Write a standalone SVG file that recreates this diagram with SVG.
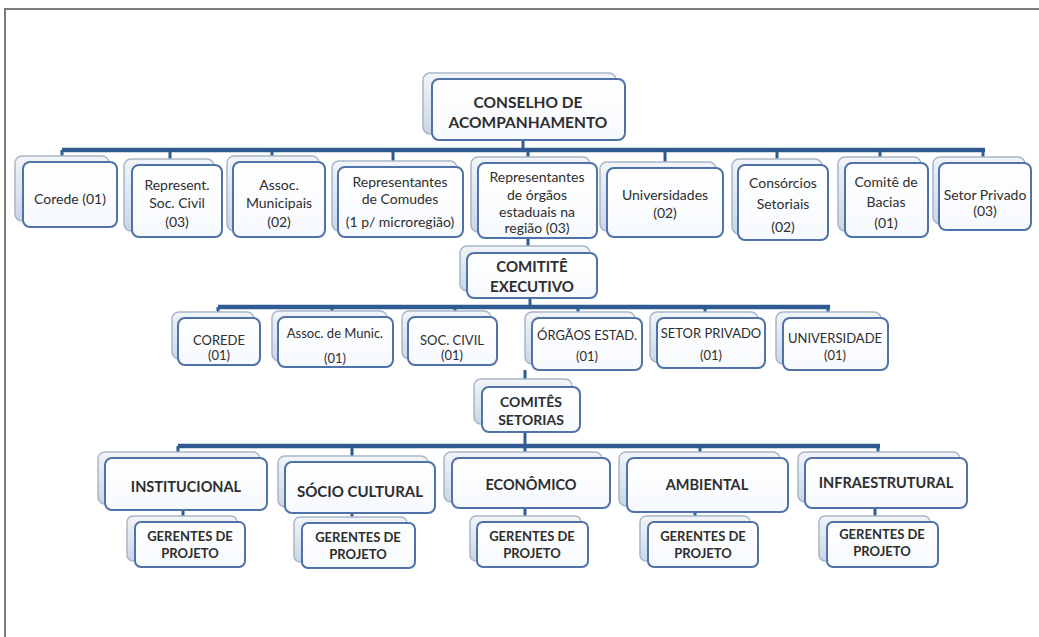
<svg xmlns="http://www.w3.org/2000/svg" width="1039" height="637" viewBox="0 0 1039 637">
<style>
.bk{fill:url(#gb);stroke:#a9b6c8;stroke-width:1.5}
.fr{fill:url(#gf);stroke:#4f73a8;stroke-width:2}
.t{font-family:Lato,"Open Sans","Liberation Sans",sans-serif;fill:#2e2e2e;text-anchor:middle}
.r{font-size:14px}
.s{font-size:13px}
.g{font-size:13px;font-weight:bold}
.b{font-weight:bold}
.c{stroke:#2f5b92;fill:none}
.bus{stroke-width:4.5}
.d{stroke-width:3}
</style>
<defs>
<linearGradient id="gb" x1="0" y1="0" x2="0" y2="1"><stop offset="0" stop-color="#f2f5f9"/><stop offset="1" stop-color="#c9d6e8"/></linearGradient>
<linearGradient id="gf" x1="0" y1="0" x2="0" y2="1"><stop offset="0" stop-color="#ffffff"/><stop offset="1" stop-color="#f6f9fd"/></linearGradient>
</defs>
<rect width="1039" height="637" fill="#ffffff"/>
<path d="M5 637 V9 H1039" fill="none" stroke="#7a7a7a" stroke-width="2"/>

<g id="connectors">
<path class="c d" d="M523 140 V150"/>
<path class="c bus" d="M62 150 H985"/>
<path class="c d" d="M62 150 V156 M170 150 V159 M272 150 V156 M393 150 V161 M528 150 V157 M665 150 V162 M777 150 V159 M880 150 V157 M983 150 V157"/>
<path class="c d" d="M528 238 V247"/>
<path class="c d" d="M530 298 V307"/>
<path class="c bus" d="M218 307 H830"/>
<path class="c d" d="M218 307 V312 M332 307 V311 M455 307 V311 M578 307 V312 M705 307 V312 M828 307 V312"/>
<path class="c d" d="M525 370 V379"/>
<path class="c d" d="M525 432 V446"/>
<path class="c bus" d="M178 446 H880"/>
<path class="c d" d="M178 446 V452 M352 446 V456 M525 446 V452 M700 446 V452 M878 446 V452"/>
<path class="c d" d="M183 510 V516 M352 513 V517 M525 508 V516 M695 512 V516 M875 508 V516"/>
</g>

<g id="n-conselho"><rect class="bk" x="423" y="73" width="193" height="61" rx="7"/><rect class="fr" x="432" y="79" width="193" height="61" rx="7"/>
<text class="t b" font-size="15.5" x="528" y="108">CONSELHO DE</text><text class="t b" font-size="15.5" x="528" y="128">ACOMPANHAMENTO</text></g>

<g id="n-corede"><rect class="bk" x="15" y="156" width="94" height="65" rx="7"/><rect class="fr" x="23" y="162" width="94" height="65" rx="7"/>
<text class="t r" x="70" y="204">Corede (01)</text></g>
<g id="n-soccivil"><rect class="bk" x="124" y="159" width="90" height="72" rx="7"/><rect class="fr" x="132" y="165" width="90" height="72" rx="7"/>
<text class="t r" x="177" y="190">Represent.</text><text class="t r" x="177" y="208">Soc. Civil</text><text class="t r" x="177" y="227">(03)</text></g>
<g id="n-assoc"><rect class="bk" x="227" y="156" width="92" height="75" rx="7"/><rect class="fr" x="233" y="162" width="92" height="75" rx="7"/>
<text class="t r" x="279" y="190">Assoc.</text><text class="t r" x="279" y="208">Municipais</text><text class="t r" x="279" y="227">(02)</text></g>
<g id="n-comudes"><rect class="bk" x="332" y="161" width="125" height="70" rx="7"/><rect class="fr" x="338" y="167" width="125" height="70" rx="7"/>
<text class="t r" x="400" y="187">Representantes</text><text class="t r" x="400" y="204">de Comudes</text><text class="t r" x="400" y="227">(1 p/ microregião)</text></g>
<g id="n-orgaos"><rect class="bk" x="471" y="157" width="119" height="75" rx="7"/><rect class="fr" x="478" y="163" width="119" height="75" rx="7"/>
<text class="t r" x="537" y="182">Representantes</text><text class="t r" x="537" y="200">de órgãos</text><text class="t r" x="537" y="217">estaduais na</text><text class="t r" x="537" y="233">região (03)</text></g>
<g id="n-univ"><rect class="bk" x="600" y="162" width="116" height="69" rx="7"/><rect class="fr" x="607" y="168" width="116" height="69" rx="7"/>
<text class="t r" x="665" y="200">Universidades</text><text class="t r" x="665" y="218">(02)</text></g>
<g id="n-consorcios"><rect class="bk" x="732" y="159" width="90" height="75" rx="7"/><rect class="fr" x="738" y="165" width="90" height="75" rx="7"/>
<text class="t r" x="783" y="188">Consórcios</text><text class="t r" x="783" y="209">Setoriais</text><text class="t r" x="783" y="232">(02)</text></g>
<g id="n-bacias"><rect class="bk" x="838" y="157" width="83" height="74" rx="7"/><rect class="fr" x="845" y="163" width="83" height="74" rx="7"/>
<text class="t r" x="886" y="187">Comitê de</text><text class="t r" x="886" y="207">Bacias</text><text class="t r" x="886" y="228">(01)</text></g>
<g id="n-setorprivado"><rect class="bk" x="933" y="157" width="92" height="67" rx="7"/><rect class="fr" x="939" y="163" width="92" height="67" rx="7"/>
<text class="t r" x="985" y="200">Setor Privado</text><text class="t r" x="985" y="216">(03)</text></g>

<g id="n-comite-exec"><rect class="bk" x="460" y="246" width="130" height="45" rx="7"/><rect class="fr" x="467" y="253" width="130" height="45" rx="7"/>
<text class="t b" font-size="15" x="532" y="272">COMITITÊ</text><text class="t b" font-size="15" x="532" y="292">EXECUTIVO</text></g>

<g id="n2-corede"><rect class="bk" x="172" y="312" width="82" height="47" rx="7"/><rect class="fr" x="178" y="318" width="82" height="47" rx="7"/>
<text class="t s" x="219" y="345">COREDE</text><text class="t s" x="219" y="360">(01)</text></g>
<g id="n2-assoc"><rect class="bk" x="272" y="311" width="115" height="50" rx="7"/><rect class="fr" x="278" y="317" width="115" height="50" rx="7"/>
<text class="t s" x="335" y="338">Assoc. de Munic.</text><text class="t s" x="335" y="363">(01)</text></g>
<g id="n2-soccivil"><rect class="bk" x="402" y="311" width="89" height="48" rx="7"/><rect class="fr" x="408" y="317" width="89" height="48" rx="7"/>
<text class="t s" x="452" y="345">SOC. CIVIL</text><text class="t s" x="452" y="360">(01)</text></g>
<g id="n2-orgaos"><rect class="bk" x="525" y="312" width="110" height="52" rx="7"/><rect class="fr" x="532" y="318" width="110" height="52" rx="7"/>
<text class="t s" x="587" y="340">ÓRGÃOS ESTAD.</text><text class="t s" x="587" y="361">(01)</text></g>
<g id="n2-setor"><rect class="bk" x="650" y="312" width="108" height="50" rx="7"/><rect class="fr" x="657" y="318" width="108" height="50" rx="7"/>
<text class="t s" x="711" y="338">SETOR PRIVADO</text><text class="t s" x="711" y="360">(01)</text></g>
<g id="n2-univ"><rect class="bk" x="776" y="312" width="105" height="52" rx="7"/><rect class="fr" x="783" y="318" width="105" height="52" rx="7"/>
<text class="t s" x="835" y="343">UNIVERSIDADE</text><text class="t s" x="835" y="360">(01)</text></g>

<g id="n-comites-set"><rect class="bk" x="474" y="379" width="98" height="45" rx="7"/><rect class="fr" x="482" y="387" width="98" height="45" rx="7"/>
<text class="t b" font-size="14" x="531" y="407">COMITÊS</text><text class="t b" font-size="14" x="531" y="425">SETORIAS</text></g>

<g id="n3-inst"><rect class="bk" x="98" y="452" width="162" height="52" rx="7"/><rect class="fr" x="105" y="458" width="162" height="52" rx="7"/>
<text class="t b" font-size="14.5" x="186" y="492">INSTITUCIONAL</text></g>
<g id="n3-socio"><rect class="bk" x="278" y="456" width="150" height="51" rx="7"/><rect class="fr" x="285" y="462" width="150" height="51" rx="7"/>
<text class="t b" font-size="15" x="360" y="497">SÓCIO CULTURAL</text></g>
<g id="n3-econ"><rect class="bk" x="444" y="452" width="158" height="50" rx="7"/><rect class="fr" x="452" y="458" width="158" height="50" rx="7"/>
<text class="t b" font-size="14.5" x="531" y="490">ECONÔMICO</text></g>
<g id="n3-amb"><rect class="bk" x="619" y="452" width="161" height="54" rx="7"/><rect class="fr" x="627" y="458" width="161" height="54" rx="7"/>
<text class="t b" font-size="14.5" x="707" y="490">AMBIENTAL</text></g>
<g id="n3-infra"><rect class="bk" x="798" y="452" width="162" height="50" rx="7"/><rect class="fr" x="805" y="458" width="162" height="50" rx="7"/>
<text class="t b" font-size="14.5" x="886" y="488">INFRAESTRUTURAL</text></g>

<g id="g1"><rect class="bk" x="127" y="516" width="110" height="45" rx="6"/><rect class="fr" x="135" y="522" width="110" height="45" rx="6"/>
<text class="t g" x="190" y="541">GERENTES DE</text><text class="t g" x="190" y="558">PROJETO</text></g>
<g id="g2"><rect class="bk" x="294" y="517" width="113" height="45" rx="6"/><rect class="fr" x="302" y="523" width="113" height="45" rx="6"/>
<text class="t g" x="358" y="542">GERENTES DE</text><text class="t g" x="358" y="559">PROJETO</text></g>
<g id="g3"><rect class="bk" x="470" y="516" width="111" height="45" rx="6"/><rect class="fr" x="477" y="522" width="111" height="45" rx="6"/>
<text class="t g" x="532" y="541">GERENTES DE</text><text class="t g" x="532" y="558">PROJETO</text></g>
<g id="g4"><rect class="bk" x="640" y="516" width="110" height="45" rx="6"/><rect class="fr" x="648" y="522" width="110" height="45" rx="6"/>
<text class="t g" x="703" y="541">GERENTES DE</text><text class="t g" x="703" y="558">PROJETO</text></g>
<g id="g5"><rect class="bk" x="819" y="516" width="111" height="45" rx="6"/><rect class="fr" x="827" y="522" width="111" height="45" rx="6"/>
<text class="t g" x="882" y="539">GERENTES DE</text><text class="t g" x="882" y="556">PROJETO</text></g>
</svg>
